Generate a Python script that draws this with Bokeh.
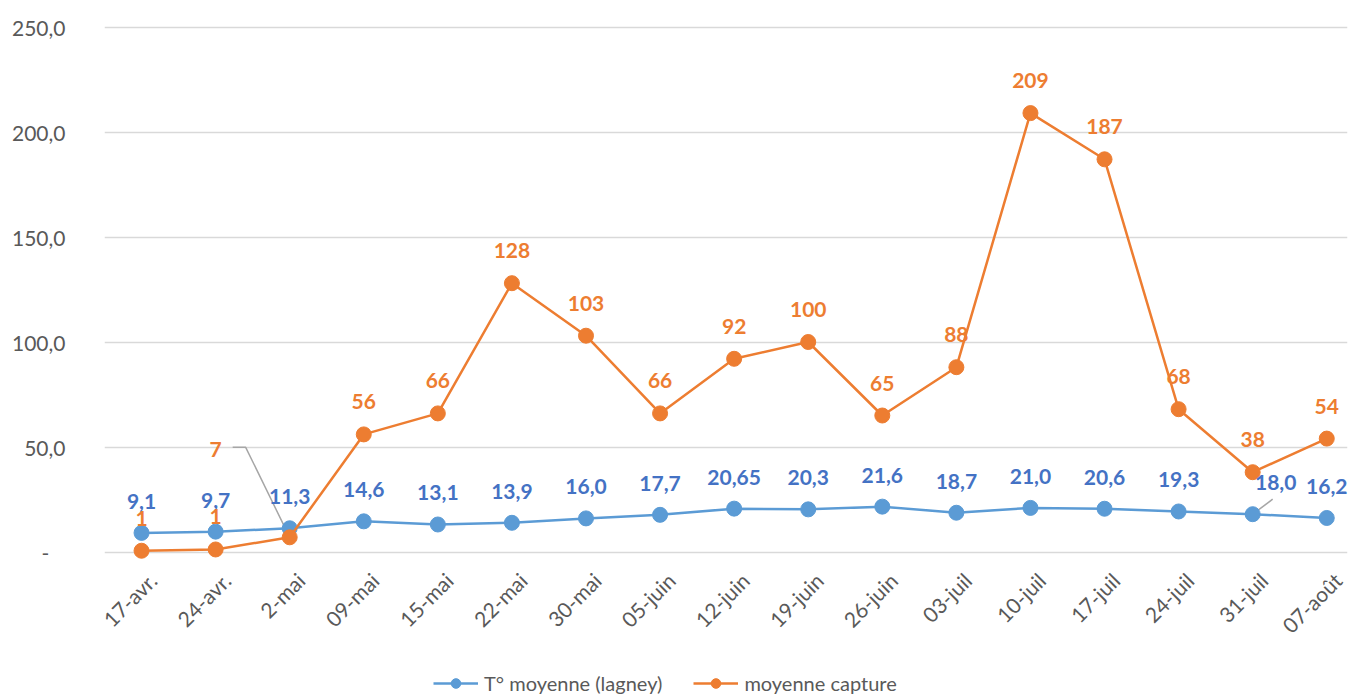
import math
from bokeh.plotting import figure
from bokeh.layouts import column
from bokeh.models import (Range1d, FixedTicker, Legend, LegendItem,
                          ColumnDataSource, LabelSet)
from bokeh.core.properties import value
from bokeh.embed import file_html
from bokeh.resources import INLINE

# ---------------- data ----------------
dates = ["17-avr.", "24-avr.", "2-mai", "09-mai", "15-mai", "22-mai", "30-mai",
         "05-juin", "12-juin", "19-juin", "26-juin", "03-juil", "10-juil",
         "17-juil", "24-juil", "31-juil", "07-août"]
temperature = [9.1, 9.7, 11.3, 14.6, 13.1, 13.9, 16.0, 17.7, 20.65, 20.3,
               21.6, 18.7, 21.0, 20.6, 19.3, 18.0, 16.2]
capture = [0.6, 1.2, 7, 56, 66, 128, 103, 66, 92, 100, 65, 88, 209, 187,
           68, 38, 54]
y_ticks = [0, 50, 100, 150, 200, 250]
y_tick_labels = ["-", "50,0", "100,0", "150,0", "200,0", "250,0"]
series_names = ["T° moyenne (lagney)", "moyenne capture"]

BLUE = "#5B9BD5"
BLUE_TXT = "#4472C4"
ORANGE = "#ED7D31"
GREY_TXT = "#595959"
FONT = "Lato"

n = len(dates)
xs = list(range(n))

W = 1351
H1, H2 = 660, 36
LEFT, RIGHT, TOP = 104, 4, 16
FH = 546
BOTTOM = H1 - TOP - FH
FW = W - LEFT - RIGHT
x_start, x_end = -0.5, 16.28
y_start, y_end = -5, 255

p = figure(width=W, height=H1, output_backend="svg", toolbar_location=None,
           x_range=Range1d(x_start, x_end), y_range=Range1d(y_start, y_end),
           min_border_left=LEFT, min_border_right=RIGHT,
           min_border_top=TOP, min_border_bottom=BOTTOM)
p.outline_line_color = None
p.background_fill_color = "white"
p.border_fill_color = "white"

px_x = FW / (x_end - x_start)
px_y = FH / (y_end - y_start)

# axes
p.yaxis.ticker = FixedTicker(ticks=y_ticks)
p.yaxis.major_label_overrides = {
    t: (lab if lab != "-" else lab + "\u00a0\u00a0\u00a0")
    for t, lab in zip(y_ticks, y_tick_labels)}
label_shift = 0.15
x_tick_pos = [i + label_shift for i in xs]
p.xaxis.ticker = FixedTicker(ticks=x_tick_pos)
p.xaxis.major_label_overrides = {t: d for t, d in zip(x_tick_pos, dates)}
p.xaxis.major_label_orientation = math.pi / 4
for ax in (p.xaxis, p.yaxis):
    ax.axis_line_color = None
    ax.major_tick_line_color = None
    ax.minor_tick_line_color = None
    ax.major_tick_out = 0
    ax.major_tick_in = 0
    ax.major_label_text_font = FONT
    ax.major_label_text_font_size = "21px"
    ax.major_label_text_color = GREY_TXT
p.yaxis.major_label_standoff = 39
p.xaxis.major_label_standoff = 14
p.xgrid.grid_line_color = None
p.ygrid.grid_line_color = "#D9D9D9"
p.ygrid.grid_line_width = 1.5

# leader lines (drawn below markers)
lead_x = [xs[2], xs[2] - 44 / px_x, xs[2] - 57 / px_x]
lead_y = [capture[2], capture[2] + 90 / px_y, capture[2] + 90 / px_y]
p.line(lead_x, lead_y, line_color="#A6A6A6", line_width=1.5)
p.line([xs[15], xs[15] + 20 / px_x], [temperature[15], temperature[15] + 15 / px_y],
       line_color="#A6A6A6", line_width=1.5)

# series
p.line(xs, temperature, line_color=BLUE, line_width=2.5)
p.scatter(xs, temperature, size=15, fill_color=BLUE, line_color=BLUE)
p.line(xs, capture, line_color=ORANGE, line_width=2.5)
p.scatter(xs, capture, size=15, fill_color=ORANGE, line_color=ORANGE)


def fmt_t(v):
    s = f"{v:.2f}" if round(v, 1) != round(v, 2) else f"{v:.1f}"
    return s.replace(".", ",")


t_labels = [fmt_t(v) for v in temperature]
c_labels = [str(int(round(v))) for v in capture]

t_xoff = [0] * n
t_yoff = [24] * n
t_xoff[15] = 23
c_xoff = [0] * n
c_yoff = [25] * n
c_xoff[2] = -74
c_yoff[2] = 80

src_t = ColumnDataSource(dict(x=xs, y=temperature, t=t_labels, xo=t_xoff, yo=t_yoff))
src_c = ColumnDataSource(dict(x=xs, y=capture, t=c_labels, xo=c_xoff, yo=c_yoff))
for src, col in ((src_t, BLUE_TXT), (src_c, ORANGE)):
    ls = LabelSet(x="x", y="y", text="t", source=src, x_offset="xo", y_offset="yo",
                  text_align="center", text_baseline="alphabetic",
                  text_font=value(FONT), text_font_size="21px",
                  text_font_style="bold", text_color=col)
    p.add_layout(ls)

# ---------------- legend strip under the chart ----------------
# the series are re-plotted here outside the visible range, only to feed the legend
pl = figure(width=W, height=H2, output_backend="svg", toolbar_location=None,
            x_axis_location=None, y_axis_location=None,
            x_range=Range1d(1000, 1001), y_range=Range1d(1000, 1001),
            min_border_left=0, min_border_right=0,
            min_border_top=0, min_border_bottom=0)
pl.outline_line_color = None
pl.xgrid.grid_line_color = None
pl.ygrid.grid_line_color = None
pl.background_fill_color = "white"
pl.border_fill_color = "white"
lb = pl.line(xs, temperature, line_color=BLUE, line_width=2.5)
sb = pl.scatter(xs, temperature, size=15, fill_color=BLUE, line_color=BLUE)
lo = pl.line(xs, capture, line_color=ORANGE, line_width=2.5)
so = pl.scatter(xs, capture, size=15, fill_color=ORANGE, line_color=ORANGE)
legend = Legend(items=[LegendItem(label=series_names[0], renderers=[lb, sb]),
                       LegendItem(label=series_names[1], renderers=[lo, so])],
                orientation="horizontal", location=(329, 1),
                glyph_width=45, glyph_height=24, label_height=24,
                label_standoff=6, spacing=31,
                padding=0, margin=0, border_line_color=None,
                background_fill_alpha=0, label_text_font=FONT,
                label_text_font_size="20px", label_text_color=GREY_TXT)
pl.add_layout(legend, "center")

layout = column(p, pl, spacing=0)
open("out.html", "w").write(file_html(layout, INLINE))
